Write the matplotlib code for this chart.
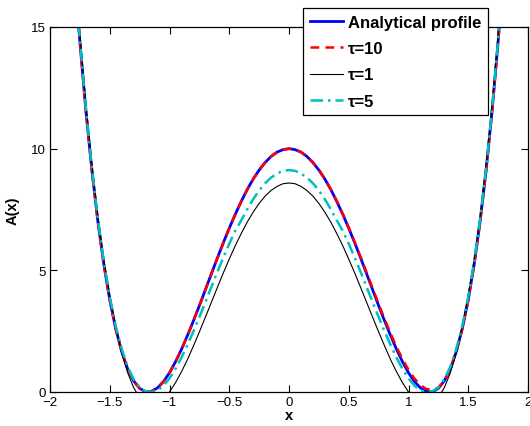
import numpy as np
import matplotlib
matplotlib.use('Agg')
import matplotlib.pyplot as plt

plt.rcParams['font.family'] = ['Liberation Sans', 'DejaVu Sans']

# sample grid, -1.8 .. 1.8 in steps of 0.05
x = np.linspace(-1.8, 1.8, 73)

# values, from x=-1.8 to x=1.8
analytical = [
    17.61, 14.39, 11.57, 9.13, 7.03, 5.26, 3.79, 2.60, 1.66, 0.95, 0.46, 0.15, 0.01,
    0.03, 0.17, 0.43, 0.79, 1.24, 1.75, 2.32, 2.92, 3.55, 4.20, 4.85, 5.50, 6.13,
    6.73, 7.30, 7.83, 8.32, 8.75, 9.12, 9.43, 9.68, 9.86, 9.96, 10.00,
    9.96, 9.86, 9.68, 9.43, 9.12, 8.75, 8.32, 7.83, 7.30, 6.73, 6.13, 5.50, 4.85,
    4.20, 3.55, 2.92, 2.32, 1.75, 1.24, 0.79, 0.43, 0.17, 0.03, 0.01, 0.15, 0.46,
    0.95, 1.66, 2.60, 3.79, 5.26, 7.03, 9.13, 11.57, 14.39, 17.61]
tau10 = [
    17.60, 14.38, 11.56, 9.12, 7.02, 5.25, 3.78, 2.59, 1.65, 0.94, 0.45, 0.14, 0.01,
    0.03, 0.17, 0.43, 0.79, 1.24, 1.75, 2.31, 2.92, 3.55, 4.19, 4.85, 5.49, 6.12,
    6.73, 7.30, 7.83, 8.31, 8.74, 9.12, 9.43, 9.68, 9.85, 9.96, 10.00,
    9.96, 9.86, 9.68, 9.44, 9.13, 8.76, 8.33, 7.85, 7.32, 6.76, 6.16, 5.54, 4.90,
    4.26, 3.62, 3.00, 2.41, 1.85, 1.35, 0.91, 0.55, 0.28, 0.12, 0.09, 0.18, 0.46,
    0.94, 1.65, 2.59, 3.78, 5.25, 7.02, 9.12, 11.56, 14.38, 17.60]
tau1 = [
    17.90, 14.70, 11.85, 9.40, 7.25, 5.45, 3.99, 2.67, 1.61, 0.79, 0.18, -0.23, -0.46,
    -0.54, -0.47, -0.29, 0.00, 0.38, 0.83, 1.33, 1.89, 2.47, 3.07, 3.68, 4.29, 4.89,
    5.46, 6.01, 6.51, 6.98, 7.39, 7.75, 8.05, 8.28, 8.45, 8.56, 8.59,
    8.56, 8.45, 8.28, 8.05, 7.75, 7.39, 6.98, 6.51, 6.01, 5.46, 4.89, 4.29, 3.68,
    3.07, 2.47, 1.89, 1.33, 0.83, 0.38, 0.00, -0.29, -0.47, -0.54, -0.46, -0.23, 0.18,
    0.79, 1.61, 2.67, 3.99, 5.45, 7.25, 9.40, 11.85, 14.70, 17.90]
tau5 = [
    17.70, 14.50, 11.68, 9.24, 7.15, 5.38, 3.92, 2.72, 1.77, 1.04, 0.52, 0.19, 0.03,
    0.00, 0.07, 0.26, 0.56, 0.95, 1.41, 1.93, 2.49, 3.08, 3.69, 4.31, 4.93, 5.52,
    6.09, 6.62, 7.05, 7.51, 7.92, 8.28, 8.58, 8.81, 8.98, 9.09, 9.12,
    9.09, 8.98, 8.81, 8.58, 8.28, 7.92, 7.51, 7.05, 6.62, 6.09, 5.52, 4.93, 4.31,
    3.69, 3.08, 2.49, 1.93, 1.41, 0.95, 0.56, 0.26, 0.07, 0.00, 0.03, 0.19, 0.52,
    1.04, 1.77, 2.72, 3.92, 5.38, 7.15, 9.24, 11.68, 14.50, 17.70]

x_ticks = [-2, -1.5, -1, -0.5, 0, 0.5, 1, 1.5, 2]
x_tick_labels = ['\u22122', '\u22121.5', '\u22121', '\u22120.5', '0', '0.5', '1', '1.5', '2']
y_ticks = [0, 5, 10, 15]

fig = plt.figure(figsize=(5.3, 4.27), dpi=100)
ax = fig.add_axes([50 / 530, 1 - 393 / 427, 478 / 530, 365 / 427])

ax.plot(x, analytical, color='#0000ff', lw=2.0, label='Analytical profile')
ax.plot(x, tau10, color='#ff0000', lw=1.8, ls=(0, (3.5, 2.5)), label='\u03c4=10')
ax.plot(x, tau1, color='black', lw=0.8, label='\u03c4=1')
ax.plot(x, tau5, color='#00bfbf', lw=1.8, ls=(0, (5, 2, 1, 2)), label='\u03c4=5')

ax.set_xlim(-2, 2)
ax.set_ylim(0, 15)
ax.set_xticks(x_ticks)
ax.set_xticklabels(x_tick_labels)
ax.set_yticks(y_ticks)
ax.tick_params(direction='in', top=True, right=True, length=5, width=0.8,
               labelsize=9.5, pad=3)
for s in ax.spines.values():
    s.set_linewidth(0.9)

ax.set_xlabel('x', fontsize=10.5, fontweight='bold', labelpad=0)
ax.set_ylabel('A(x)', fontsize=10.5, fontweight='bold', labelpad=8)

leg = ax.legend(loc='upper left', bbox_to_anchor=(303 / 530, 1 - 9 / 427),
                bbox_transform=fig.transFigure, borderaxespad=0,
                prop={'size': 12, 'weight': 'bold'}, handlelength=2.0,
                handletextpad=0.3, labelspacing=0.68, borderpad=0.4,
                fancybox=False, framealpha=1, edgecolor='black')
leg.get_frame().set_linewidth(0.9)

fig.savefig('out.png', dpi=100)
